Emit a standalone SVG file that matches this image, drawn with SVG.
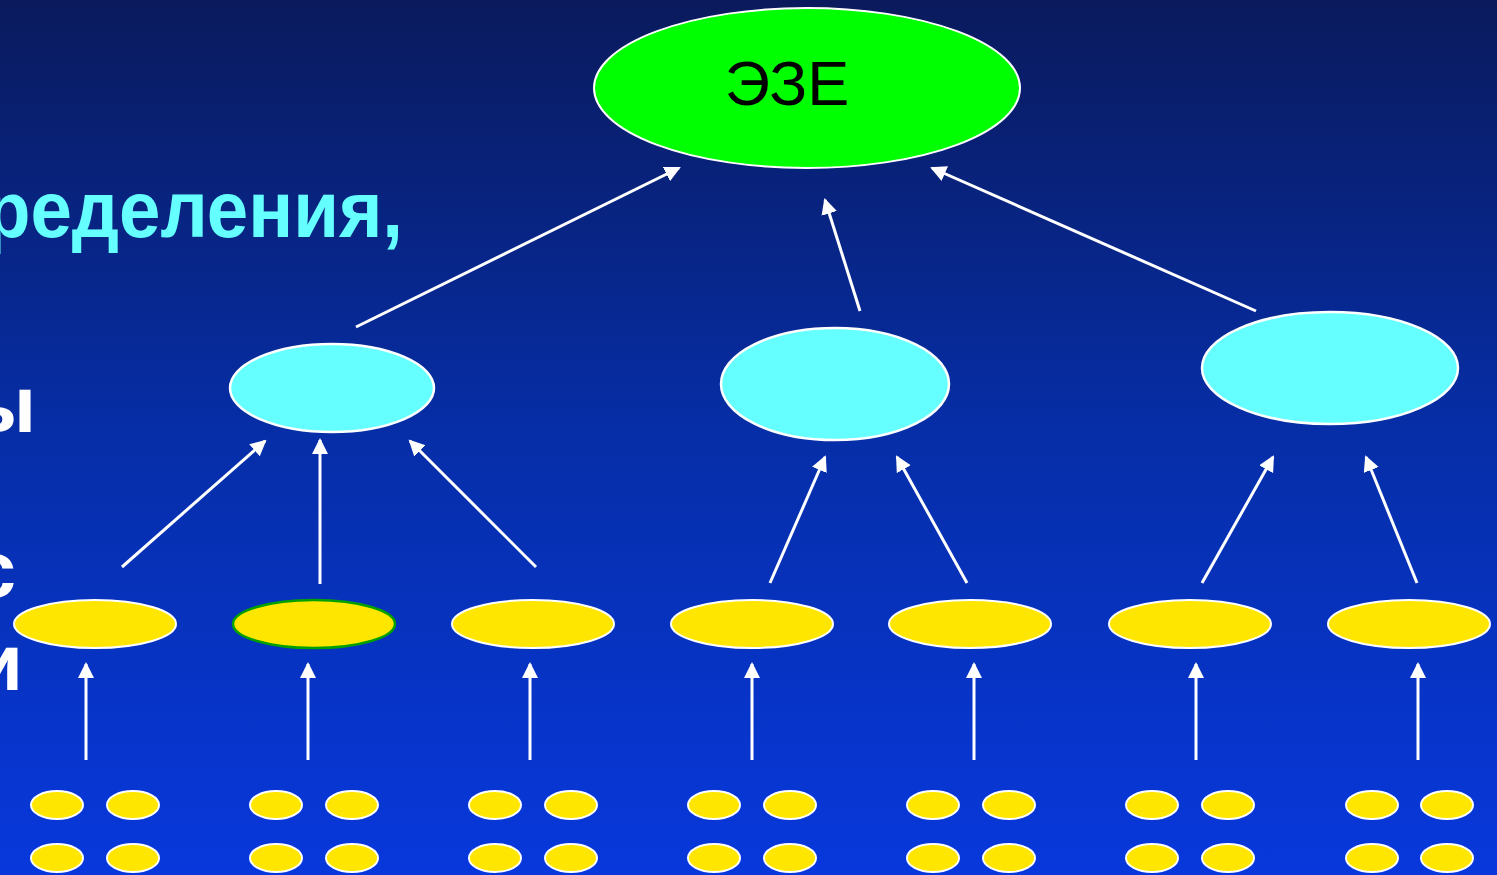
<svg xmlns="http://www.w3.org/2000/svg" width="1497" height="875" viewBox="0 0 1497 875">
<defs>
<linearGradient id="bg" x1="0" y1="0" x2="0" y2="1">
<stop offset="0" stop-color="#0a1a5c"/>
<stop offset="0.5" stop-color="#062ea8"/>
<stop offset="1" stop-color="#0838dc"/>
</linearGradient>
<marker id="ah" markerUnits="userSpaceOnUse" markerWidth="18" markerHeight="18" refX="14" refY="8" orient="auto">
<path d="M0,0 L16,8 L0,16 z" fill="#ffffff"/>
</marker>
<style>
.conn line{stroke:#ffffff;stroke-width:3;marker-end:url(#ah)}
.top{fill:#00ff00;stroke:#ffffff;stroke-width:2}
.mid{fill:#66ffff;stroke:#ffffff;stroke-width:2.5}
.yel{fill:#ffe600;stroke:#ffffff;stroke-width:2}
.yelg{fill:#ffe600;stroke:#00a000;stroke-width:2.5}
.sm{fill:#ffe600;stroke:#ffffff;stroke-width:2}
.bt{font-family:"Liberation Sans",Arial,sans-serif;font-weight:bold;font-size:80px}
</style>
</defs>
<rect x="0" y="0" width="1497" height="875" fill="url(#bg)"/>
<g id="bgtext">
<text class="bt" x="-15" y="237" fill="#66ffff" textLength="418" lengthAdjust="spacingAndGlyphs">ределения,</text>
<text class="bt" x="36" y="432" fill="#ffffff" text-anchor="end">ы</text>
<text class="bt" x="16" y="597" fill="#ffffff" text-anchor="end">с</text>
<text class="bt" x="23" y="690" fill="#ffffff" text-anchor="end">и</text>
</g>
<g id="connectors" class="conn">
<line x1="356" y1="327" x2="679" y2="168"/>
<line x1="860" y1="311" x2="825" y2="200"/>
<line x1="1256" y1="311" x2="932" y2="168"/>
<line x1="122" y1="567" x2="265" y2="441"/>
<line x1="320" y1="584" x2="320" y2="440"/>
<line x1="536" y1="567" x2="410" y2="441"/>
<line x1="770" y1="583" x2="825" y2="457"/>
<line x1="967" y1="583" x2="897" y2="457"/>
<line x1="1202" y1="583" x2="1273" y2="457"/>
<line x1="1417" y1="583" x2="1366" y2="457"/>
<line x1="86" y1="760" x2="86" y2="664"/>
<line x1="308" y1="760" x2="308" y2="664"/>
<line x1="530" y1="760" x2="530" y2="664"/>
<line x1="752" y1="760" x2="752" y2="664"/>
<line x1="974" y1="760" x2="974" y2="664"/>
<line x1="1196" y1="760" x2="1196" y2="664"/>
<line x1="1418" y1="760" x2="1418" y2="664"/>
</g>
<g id="root">
<ellipse class="top" cx="807" cy="88" rx="213" ry="80"/>
<text x="787" y="105" font-family="Liberation Sans,Arial,sans-serif" font-size="63" text-anchor="middle" fill="#000000">ЭЗЕ</text>
</g>
<g id="mid1"><ellipse class="mid" cx="332" cy="388" rx="102" ry="44"/></g>
<g id="mid2"><ellipse class="mid" cx="835" cy="384" rx="114" ry="56"/></g>
<g id="mid3"><ellipse class="mid" cx="1330" cy="368" rx="128" ry="56"/></g>
<g id="y1"><ellipse class="yel" cx="95" cy="624" rx="81" ry="24"/></g>
<g id="y2"><ellipse class="yelg" cx="314" cy="624" rx="81" ry="24"/></g>
<g id="y3"><ellipse class="yel" cx="533" cy="624" rx="81" ry="24"/></g>
<g id="y4"><ellipse class="yel" cx="752" cy="624" rx="81" ry="24"/></g>
<g id="y5"><ellipse class="yel" cx="970" cy="624" rx="81" ry="24"/></g>
<g id="y6"><ellipse class="yel" cx="1190" cy="624" rx="81" ry="24"/></g>
<g id="y7"><ellipse class="yel" cx="1409" cy="624" rx="81" ry="24"/></g>
<g id="s1"><ellipse class="sm" cx="57" cy="805" rx="26" ry="14"/><ellipse class="sm" cx="133" cy="805" rx="26" ry="14"/><ellipse class="sm" cx="57" cy="858" rx="26" ry="14"/><ellipse class="sm" cx="133" cy="858" rx="26" ry="14"/></g>
<g id="s2"><ellipse class="sm" cx="276" cy="805" rx="26" ry="14"/><ellipse class="sm" cx="352" cy="805" rx="26" ry="14"/><ellipse class="sm" cx="276" cy="858" rx="26" ry="14"/><ellipse class="sm" cx="352" cy="858" rx="26" ry="14"/></g>
<g id="s3"><ellipse class="sm" cx="495" cy="805" rx="26" ry="14"/><ellipse class="sm" cx="571" cy="805" rx="26" ry="14"/><ellipse class="sm" cx="495" cy="858" rx="26" ry="14"/><ellipse class="sm" cx="571" cy="858" rx="26" ry="14"/></g>
<g id="s4"><ellipse class="sm" cx="714" cy="805" rx="26" ry="14"/><ellipse class="sm" cx="790" cy="805" rx="26" ry="14"/><ellipse class="sm" cx="714" cy="858" rx="26" ry="14"/><ellipse class="sm" cx="790" cy="858" rx="26" ry="14"/></g>
<g id="s5"><ellipse class="sm" cx="933" cy="805" rx="26" ry="14"/><ellipse class="sm" cx="1009" cy="805" rx="26" ry="14"/><ellipse class="sm" cx="933" cy="858" rx="26" ry="14"/><ellipse class="sm" cx="1009" cy="858" rx="26" ry="14"/></g>
<g id="s6"><ellipse class="sm" cx="1152" cy="805" rx="26" ry="14"/><ellipse class="sm" cx="1228" cy="805" rx="26" ry="14"/><ellipse class="sm" cx="1152" cy="858" rx="26" ry="14"/><ellipse class="sm" cx="1228" cy="858" rx="26" ry="14"/></g>
<g id="s7"><ellipse class="sm" cx="1372" cy="805" rx="26" ry="14"/><ellipse class="sm" cx="1447" cy="805" rx="26" ry="14"/><ellipse class="sm" cx="1372" cy="858" rx="26" ry="14"/><ellipse class="sm" cx="1447" cy="858" rx="26" ry="14"/></g>
</svg>
